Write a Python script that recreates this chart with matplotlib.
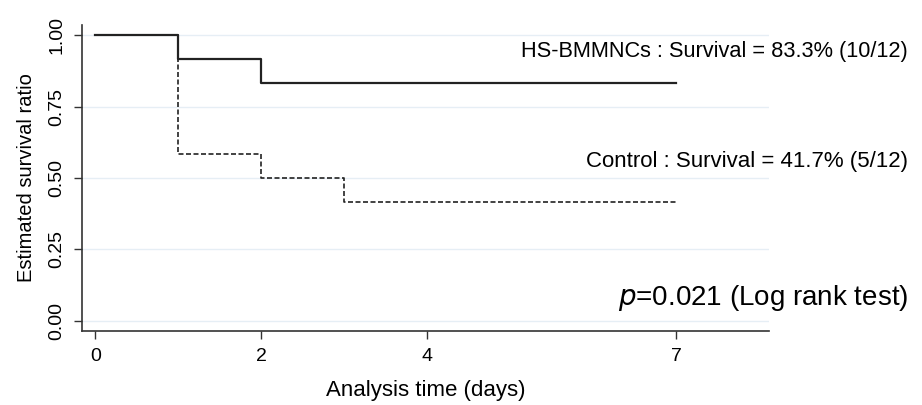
import matplotlib
matplotlib.use("Agg")
from matplotlib import pyplot as plt

plt.rcParams['font.family'] = ['Liberation Sans', 'DejaVu Sans']

# Kaplan-Meier step data (time in days, survival ratio).
time_bm = [0, 1, 2, 7]
surv_bm = [1.0, 0.917, 0.833, 0.833]
time_ctrl = [0, 1, 2, 3, 7]
surv_ctrl = [1.0, 0.583, 0.5, 0.417, 0.417]

xticks = [0, 2, 4, 7]
yticks = [0.0, 0.25, 0.5, 0.75, 1.0]
ytick_labels = ["0.00", "0.25", "0.50", "0.75", "1.00"]

label_bm = "HS-BMMNCs : Survival = 83.3% (10/12)"
label_ctrl = "Control : Survival = 41.7% (5/12)"

# Figure and axes placement.
fig = plt.figure(figsize=(9.22, 4.05), dpi=100)
ax = fig.add_axes([0.089, 0.183, 0.745, 0.755])

# Light horizontal gridlines.
for yv in yticks:
    ax.axhline(yv, color='#e6eef5', linewidth=1.0, zorder=0)

# Survival curves.
ax.step(time_ctrl, surv_ctrl, where='post', color='#222222', linewidth=1.2,
        linestyle=(0, (3, 1.5)))
ax.step(time_bm, surv_bm, where='post', color='#222222', linewidth=1.6)

ax.set_xlim(-0.16, 8.12)
ax.set_ylim(-0.035, 1.035)

ax.set_xticks(xticks)
ax.set_xticklabels([str(t) for t in xticks], fontsize=14)
ax.set_yticks(yticks)
ax.set_yticklabels(ytick_labels, fontsize=14, rotation=90, va='center')

ax.spines['top'].set_visible(False)
ax.spines['right'].set_visible(False)
for side in ['left', 'bottom']:
    ax.spines[side].set_color('#333333')
    ax.spines[side].set_linewidth(1.2)
ax.tick_params(colors='#333333', length=6, width=1.0, pad=6)
ax.tick_params(axis='x', labelcolor='black')
ax.tick_params(axis='y', labelcolor='black')

ax.set_xlabel("Analysis time (days)", fontsize=16, labelpad=11)
ax.set_ylabel("Estimated survival ratio", fontsize=14.5, labelpad=9)

# Annotations, right-aligned near the figure edge.
fig.text(0.985, 0.873, label_bm, ha='right', va='center', fontsize=15.7)
fig.text(0.985, 0.600, label_ctrl, ha='right', va='center', fontsize=16)
fig.text(0.985, 0.264, r"$p$=0.021 (Log rank test)", ha='right', va='center',
         fontsize=20, math_fontfamily='dejavusans')

fig.savefig("out.png", dpi=100)
